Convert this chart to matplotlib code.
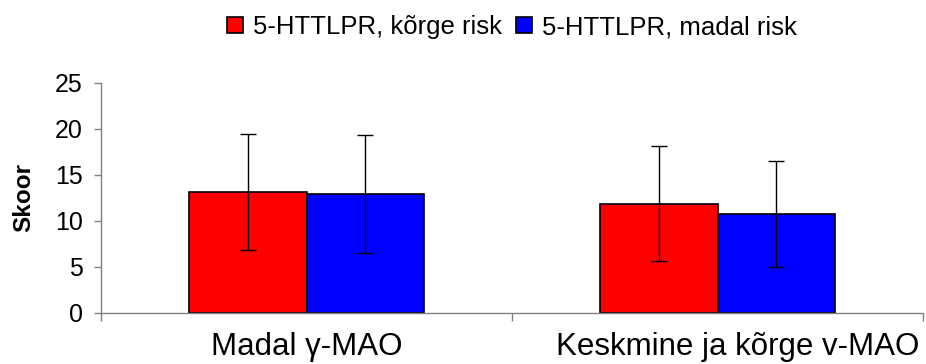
import numpy as np
import matplotlib.pyplot as plt
from matplotlib.transforms import ScaledTranslation

plt.rcParams['font.family'] = ['Liberation Sans', 'DejaVu Sans']

groups = ['Madal γ-MAO', 'Keskmine ja kõrge v-MAO']
series = ['5-HTTLPR, kõrge risk', '5-HTTLPR, madal risk']
high_risk = [13.2, 11.9]
high_risk_err = [6.3, 6.2]
low_risk = [12.9, 10.8]
low_risk_err = [6.4, 5.75]

colors = ['#ff0000', '#0000ff']
gray = '#808080'

fig = plt.figure(figsize=(9.26, 3.64), dpi=100)
ax = fig.add_axes([101 / 926, 51 / 364, 822 / 926, 230 / 364])

x = np.arange(len(groups)) + 0.5
w = 0.286
err_kw = dict(ecolor='black', elinewidth=1, capsize=5.8, capthick=1)
b1 = ax.bar(x - w / 2, high_risk, w, yerr=high_risk_err, color=colors[0],
            edgecolor='black', linewidth=1.2, error_kw=err_kw, label=series[0])
b2 = ax.bar(x + w / 2, low_risk, w, yerr=low_risk_err, color=colors[1],
            edgecolor='black', linewidth=1.2, error_kw=err_kw, label=series[1])

ax.set_xlim(0, 2)
ax.set_ylim(0, 25)
ax.set_yticks([0, 5, 10, 15, 20, 25])
ax.tick_params(axis='y', labelsize=18, length=5, width=1, color=gray,
               pad=8, direction='out')

ax.set_xticks(x)
ax.set_xticklabels(groups, fontsize=22.5)
ax.set_xticks([0, 1, 2], minor=True)
ax.tick_params(axis='x', which='major', length=0, pad=14)
ax.tick_params(axis='x', which='minor', length=6, width=1, color=gray,
               direction='out')

# the long second label sits flush against the right edge
lbl = ax.get_xticklabels()[1]
lbl.set_transform(lbl.get_transform() + ScaledTranslation(0.2, 0, fig.dpi_scale_trans))

for side in ['top', 'right']:
    ax.spines[side].set_visible(False)
for side in ['left', 'bottom']:
    ax.spines[side].set_color(gray)
    ax.spines[side].set_linewidth(1)

ax.set_ylabel('Skoor', fontsize=17.5, fontweight='bold')
ax.yaxis.set_label_coords(-66 / 822, 0.5)

# legend centred over the plot area
fig.legend(handles=[b1, b2], labels=series, loc='center',
           bbox_to_anchor=(512 / 926, 1 - 27 / 364), ncol=2, frameon=False,
           fontsize=18.5, handlelength=0.62, handleheight=0.62,
           handletextpad=0.4, columnspacing=0.55)

fig.savefig('out.png', dpi=100)
